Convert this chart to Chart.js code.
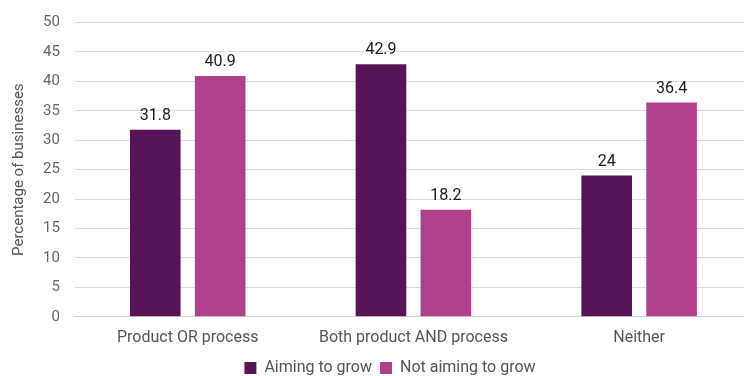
<!DOCTYPE html>
<html>
<head>
<meta charset="utf-8">
<script src="https://cdn.jsdelivr.net/npm/chart.js@4"></script>
<style>
  html, body { margin: 0; padding: 0; background: #fff; overflow: hidden; }
  #wrap { width: 760px; height: 386px; }
</style>
</head>
<body>
<div id="wrap"><canvas id="myChart"></canvas></div>
<script>
const categorias = ['Product OR process', 'Both product AND process', 'Neither']
const aimingToGrow = [31.8, 42.9, 24]
const notAimingToGrow = [40.9, 18.2, 36.4]
const yTicks = [0, 5, 10, 15, 20, 25, 30, 35, 40, 45, 50]

Chart.defaults.font.family = 'Roboto'
Chart.defaults.font.size = 16

// rotulos em cima das barras
const rotulos = {
  id: 'rotulos',
  afterDatasetsDraw(chart) {
    const ctx = chart.ctx
    ctx.save()
    ctx.font = '16px Roboto'
    ctx.fillStyle = '#1a1a1a'
    ctx.textAlign = 'center'
    ctx.textBaseline = 'bottom'
    chart.data.datasets.forEach((ds, i) => {
      chart.getDatasetMeta(i).data.forEach((bar, j) => {
        ctx.fillText(String(ds.data[j]), bar.x, bar.y - 6)
      })
    })
    ctx.restore()
  }
}

// empurra a legenda um pouco pra direita
const legendaDireita = {
  id: 'legendaDireita',
  afterLayout(chart) {
    chart.legend.left += 11
    chart.legend.right += 11
  }
}

const data = {
  labels: categorias,
  datasets: [{
    label: 'Aiming to grow',
    data: aimingToGrow,
    backgroundColor: '#561456',
    categoryPercentage: 0.575,
    barPercentage: 0.78
  }, {
    label: 'Not aiming to grow',
    data: notAimingToGrow,
    backgroundColor: '#b0408c',
    categoryPercentage: 0.575,
    barPercentage: 0.78
  }]
}

const config = {
  type: 'bar',
  data: data,
  options: {
    responsive: true,
    maintainAspectRatio: false,
    animation: false,
    layout: { padding: { left: 6, right: 8, top: 19, bottom: 0 } },
    plugins: {
      legend: {
        position: 'bottom',
        labels: {
          color: '#555',
          boxWidth: 12,
          boxHeight: 12,
          padding: 8,
          font: { size: 16 }
        }
      },
      tooltip: { enabled: false }
    },
    scales: {
      x: {
        grid: { display: false },
        border: { color: '#d4d4d4' },
        ticks: { color: '#555', padding: 4 }
      },
      y: {
        min: 0,
        max: 50,
        afterBuildTicks: (axis) => { axis.ticks = yTicks.map(v => ({ value: v })) },
        grid: { color: '#dcdcdc', drawTicks: false },
        border: { display: false },
        ticks: { color: '#666', padding: 15, font: { size: 15, lineHeight: 1 } },
        title: {
          display: true,
          text: 'Percentage of businesses',
          color: '#555',
          font: { size: 15 },
          padding: { top: 4, bottom: 0 }
        }
      }
    }
  },
  plugins: [rotulos, legendaDireita]
}

const myChart = new Chart(document.getElementById('myChart'), config)
</script>
</body>
</html>
